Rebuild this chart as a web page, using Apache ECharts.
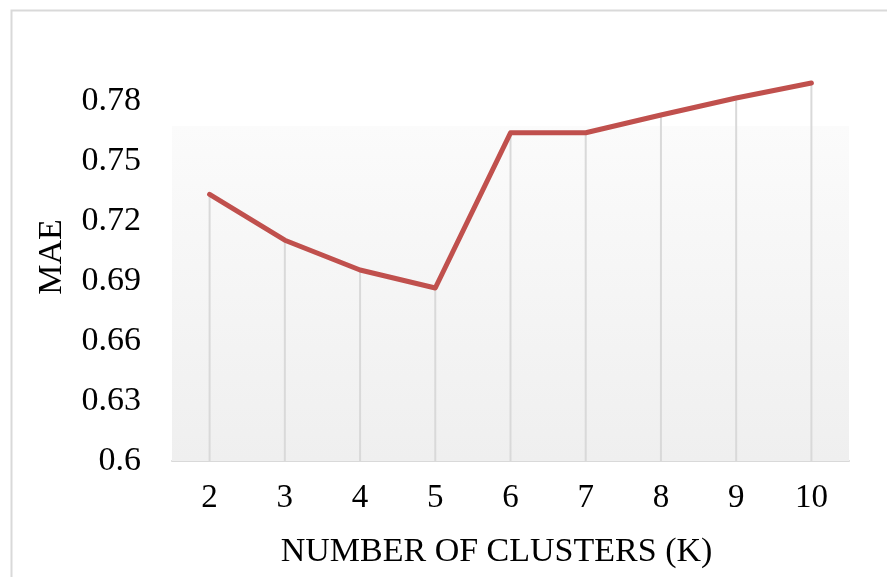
<!DOCTYPE html>
<html>
<head>
<meta charset="utf-8">
<script src="https://cdn.jsdelivr.net/npm/echarts@6/dist/echarts.min.js"></script>
<style>
html,body{margin:0;padding:0;background:#fff;}
#chart{width:887px;height:577px;}
</style>
</head>
<body>
<div id="chart"></div>
<script>
const categories = ['2','3','4','5','6','7','8','9','10'];
const maeValues = [0.7333, 0.7104, 0.6955, 0.6865, 0.7641, 0.7641, 0.7730, 0.7815, 0.7890];
const yMin = 0.6, yMax = 0.795, yStep = 0.03;
const panelTop = 0.7675;

const chart = echarts.init(document.getElementById('chart'));
const font = '"Liberation Serif", "Times New Roman", serif';
chart.setOption({
  animation: false,
  backgroundColor: '#ffffff',
  graphic: [{
    type: 'rect', left: 9, top: 8,
    shape: {width: 900, height: 600},
    style: {fill: 'none', stroke: '#d9d9d9', lineWidth: 2},
    silent: true
  }],
  grid: {left: 172, right: 38, top: 71, bottom: 116, outerBoundsMode: 'none', containLabel: false},
  xAxis: {
    type: 'category',
    data: categories,
    boundaryGap: true,
    axisLine: {show: true, lineStyle: {color: '#d9d9d9', width: 2}},
    axisTick: {show: false},
    axisLabel: {fontFamily: font, fontSize: 33, color: '#000', margin: 21},
    splitLine: {show: false},
    name: 'NUMBER OF CLUSTERS (K)',
    nameLocation: 'middle',
    nameGap: 74,
    nameTextStyle: {fontFamily: font, fontSize: 34, color: '#000', padding: [0, 28, 0, 0]}
  },
  yAxis: {
    type: 'value',
    min: yMin, max: yMax, interval: yStep,
    axisLine: {show: false},
    axisTick: {show: false},
    splitLine: {show: false},
    axisLabel: {
      fontFamily: font, fontSize: 34, color: '#000', margin: 31,
      showMaxLabel: false,
      formatter: v => String(parseFloat(v.toFixed(2)))
    },
    name: 'MAE',
    nameLocation: 'middle',
    nameGap: 103,
    nameTextStyle: {fontFamily: font, fontSize: 34, color: '#000', padding: [0, 0, 0, 18]}
  },
  series: [
    {
      type: 'bar',
      data: maeValues,
      barWidth: 2,
      itemStyle: {color: '#d9d9d9'},
      silent: true,
      z: 1,
      markArea: {
        silent: true,
        itemStyle: {
          color: {type: 'linear', x: 0, y: 0, x2: 0, y2: 1,
            colorStops: [{offset: 0, color: '#fbfbfb'}, {offset: 1, color: '#efefef'}]}
        },
        data: [[{xAxis: -Infinity, yAxis: yMin}, {xAxis: Infinity, yAxis: panelTop}]]
      }
    },
    {
      type: 'line',
      data: maeValues,
      symbol: 'none',
      lineStyle: {color: '#c0504d', width: 5, cap: 'round', join: 'round'},
      z: 3
    }
  ]
});
</script>
</body>
</html>
